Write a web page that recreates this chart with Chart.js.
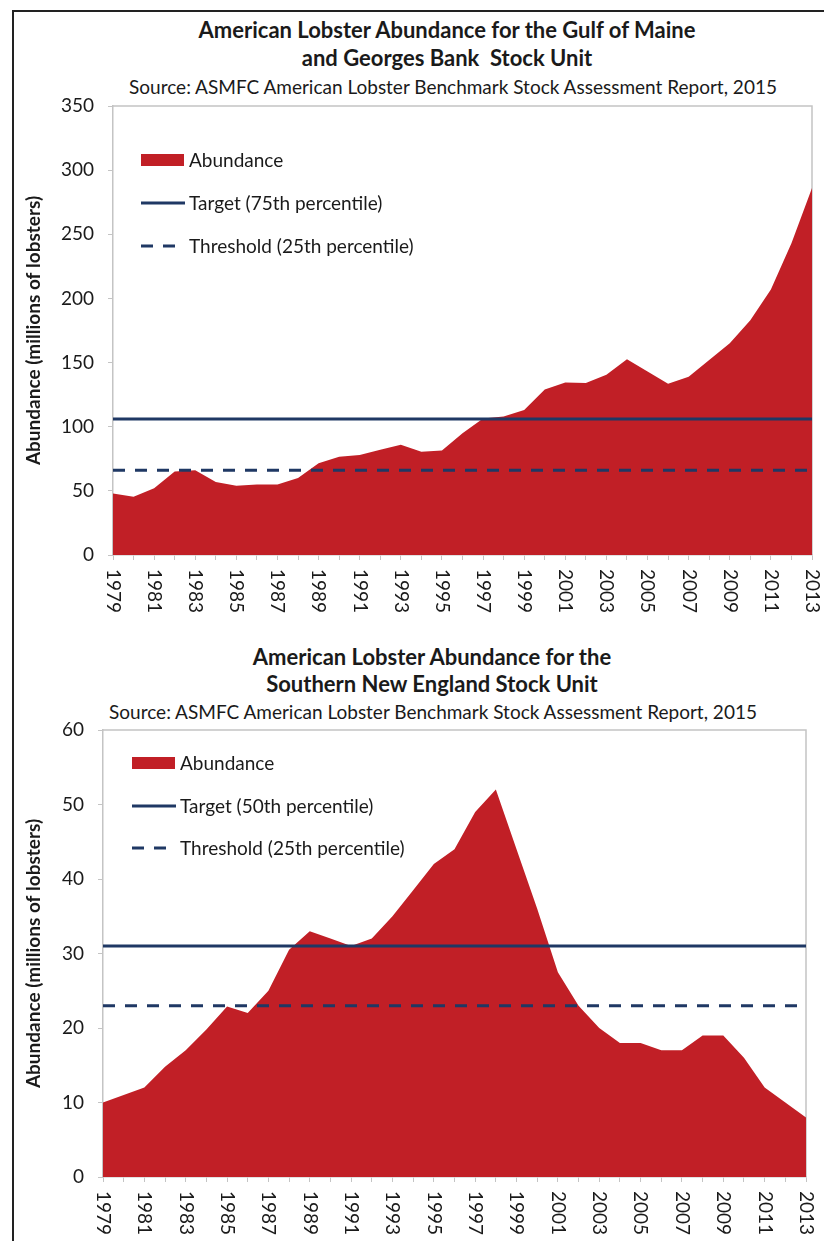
<!DOCTYPE html>
<html>
<head>
<meta charset="utf-8">
<script src="https://cdn.jsdelivr.net/npm/chart.js@4/dist/chart.umd.min.js"></script>
<style>
  html, body { margin: 0; padding: 0; background: #fff; }
  body { width: 824px; height: 1241px; position: relative; overflow: hidden; font-family: Lato, "Open Sans", sans-serif; color: #1a1a1a; }
  .frame { position: absolute; left: 12px; top: 10px; width: 900px; height: 1300px; border-left: 2px solid #222; border-top: 2px solid #222; }
  .txt { position: absolute; white-space: nowrap; transform: translate(-50%, -50%); line-height: 1; }
  .ttl { font-weight: bold; font-size: 22px; }
  .src { font-size: 19px; }
  .box { position: absolute; left: 0; width: 824px; }
</style>
</head>
<body>
<div class="frame"></div>

<div class="txt ttl" style="left:447px; top:30px">American Lobster Abundance for the Gulf of Maine</div>
<div class="txt ttl" style="left:447px; top:58px">and Georges Bank&nbsp; Stock Unit</div>
<div class="txt src" style="left:453px; top:86px">Source: ASMFC American Lobster Benchmark Stock Assessment Report, 2015</div>

<div class="txt ttl" style="left:432px; top:657px">American Lobster Abundance for the</div>
<div class="txt ttl" style="left:432px; top:684px">Southern New England Stock Unit</div>
<div class="txt src" style="left:433px; top:711px">Source: ASMFC American Lobster Benchmark Stock Assessment Report, 2015</div>

<div class="box" style="top:0; height:620px"><canvas id="gom"></canvas></div>
<div class="box" style="top:620px; height:621px"><canvas id="sne"></canvas></div>

<script>
const years = ['1979', '1980', '1981', '1982', '1983', '1984', '1985', '1986', '1987', '1988',
    '1989', '1990', '1991', '1992', '1993', '1994', '1995', '1996', '1997', '1998',
    '1999', '2000', '2001', '2002', '2003', '2004', '2005', '2006', '2007', '2008',
    '2009', '2010', '2011', '2012', '2013'];

// Gulf of Maine / Georges Bank, millions of lobsters
const gomAbundance = [48, 45.5, 52, 65, 66, 57, 54, 55, 55, 60,
    71.5, 76.5, 78, 82, 86, 80.5, 81.5, 95, 106.5, 108,
    113, 129, 134.5, 134, 140.5, 152.5, 143, 133.5, 139, 152,
    165, 183, 207, 243, 286];
const gomTarget = 106;
const gomThreshold = 66;

// Southern New England, millions of lobsters
const sneAbundance = [10, 11, 12, 14.8, 17, 19.8, 22.9, 22, 25, 30.5,
    33, 32, 31, 32, 35, 38.5, 42, 44, 49, 52,
    44, 36, 27.5, 23, 20, 18, 18, 17, 17, 19,
    19, 16, 12, 10, 8];
const sneTarget = 31;
const sneThreshold = 23;

const RED = '#c11f26';
const NAVY = '#1f3864';
const GREY = '#c4c4c4';
const INK = '#1a1a1a';
const FONT = 'Lato, "Open Sans", sans-serif';

// x labels read top-to-bottom, every other year
const yearLabels = {
    id: 'yearLabels',
    afterDraw(chart, args, opts) {
        const {ctx} = chart;
        const x = chart.scales.x;
        ctx.save();
        ctx.font = '19px ' + FONT;
        ctx.fillStyle = INK;
        ctx.textAlign = 'left';
        ctx.textBaseline = 'middle';
        x.ticks.forEach((t, i) => {
            if (i % 2) return;
            ctx.save();
            ctx.translate(x.getPixelForTick(i), x.top + opts.offset);
            ctx.rotate(Math.PI / 2);
            ctx.fillText(x.getLabelForValue(t.value), 0, 0);
            ctx.restore();
        });
        ctx.restore();
    }
};

// light frame on top and right of the plot
const plotFrame = {
    id: 'plotFrame',
    beforeDatasetsDraw(chart) {
        const {ctx, chartArea: a} = chart;
        ctx.save();
        ctx.strokeStyle = GREY;
        ctx.lineWidth = 1.5;
        ctx.beginPath();
        ctx.moveTo(a.left, a.top);
        ctx.lineTo(a.right, a.top);
        ctx.lineTo(a.right, a.bottom);
        ctx.stroke();
        ctx.restore();
    }
};

// legend drawn inside the plot area, one item per row
const insideLegend = {
    id: 'insideLegend',
    afterDraw(chart, args, opts) {
        const {ctx, chartArea: a} = chart;
        const x0 = a.left + opts.x;
        ctx.save();
        ctx.font = '19px ' + FONT;
        ctx.textBaseline = 'middle';
        chart.data.datasets.forEach((ds, i) => {
            const y = a.top + opts.rows[i];
            if (ds.fill) {
                ctx.fillStyle = ds.backgroundColor;
                ctx.fillRect(x0, y - 6, 43, 12);
            } else {
                ctx.strokeStyle = ds.borderColor;
                ctx.lineWidth = ds.borderWidth;
                ctx.setLineDash(ds.borderDash || []);
                ctx.beginPath();
                ctx.moveTo(x0, y);
                ctx.lineTo(x0 + 44, y);
                ctx.stroke();
                ctx.setLineDash([]);
            }
            ctx.fillStyle = INK;
            ctx.fillText(ds.label, x0 + 48, y + 1);
        });
        ctx.restore();
    }
};

function refLine(label, value, dash) {
    return {
        type: 'line',
        label,
        data: [{x: years[0], y: value}, {x: years[years.length - 1], y: value}],
        borderColor: NAVY,
        borderWidth: 3,
        borderDash: dash,
        pointRadius: 0,
        fill: false,
        order: 1
    };
}

function RenderAbundanceChart(canvas, cfg) {
    new Chart(canvas, {
        type: 'line',
        data: {
            labels: years,
            datasets: [
                {
                    label: 'Abundance',
                    data: cfg.abundance,
                    backgroundColor: RED,
                    borderWidth: 0,
                    pointRadius: 0,
                    fill: 'origin',
                    tension: 0,
                    order: 3
                },
                refLine(cfg.targetLabel, cfg.target, []),
                refLine('Threshold (25th percentile)', cfg.threshold, [12, 10])
            ]
        },
        options: {
            responsive: true,
            maintainAspectRatio: false,
            animation: false,
            layout: {padding: cfg.padding},
            plugins: {
                legend: {display: false},
                tooltip: {enabled: false},
                yearLabels: {offset: 14},
                insideLegend: cfg.legend
            },
            scales: {
                x: {
                    type: 'category',
                    offset: false,
                    grid: {drawOnChartArea: false, drawTicks: true, tickLength: 5, color: GREY},
                    border: {color: GREY, width: 1.5},
                    ticks: {display: false},
                    afterFit(scale) { scale.height = 50; }
                },
                y: {
                    min: 0,
                    max: cfg.max,
                    grid: {drawOnChartArea: false, drawTicks: true, tickLength: 5, color: GREY},
                    border: {color: GREY, width: 1.5},
                    ticks: {stepSize: cfg.step, padding: 14, color: INK, font: {family: FONT, size: 19}},
                    title: {
                        display: true,
                        text: 'Abundance (millions of lobsters)',
                        color: INK,
                        font: {family: FONT, size: 19, weight: 'bold'},
                        padding: {top: 8, bottom: 0}
                    },
                    afterFit(scale) { scale.width = cfg.axisWidth; }
                }
            }
        },
        plugins: [plotFrame, yearLabels, insideLegend]
    });
}

RenderAbundanceChart(document.getElementById('gom'), {
    abundance: gomAbundance,
    target: gomTarget,
    threshold: gomThreshold,
    targetLabel: 'Target (75th percentile)',
    max: 350,
    step: 50,
    axisWidth: 99,
    padding: {top: 106, left: 14, right: 12, bottom: 15},
    legend: {x: 28, rows: [54, 97, 140]}
});

RenderAbundanceChart(document.getElementById('sne'), {
    abundance: sneAbundance,
    target: sneTarget,
    threshold: sneThreshold,
    targetLabel: 'Target (50th percentile)',
    max: 60,
    step: 10,
    axisWidth: 89,
    padding: {top: 110, left: 14, right: 18, bottom: 14},
    legend: {x: 29, rows: [33, 76, 118]}
});
</script>
</body>
</html>
